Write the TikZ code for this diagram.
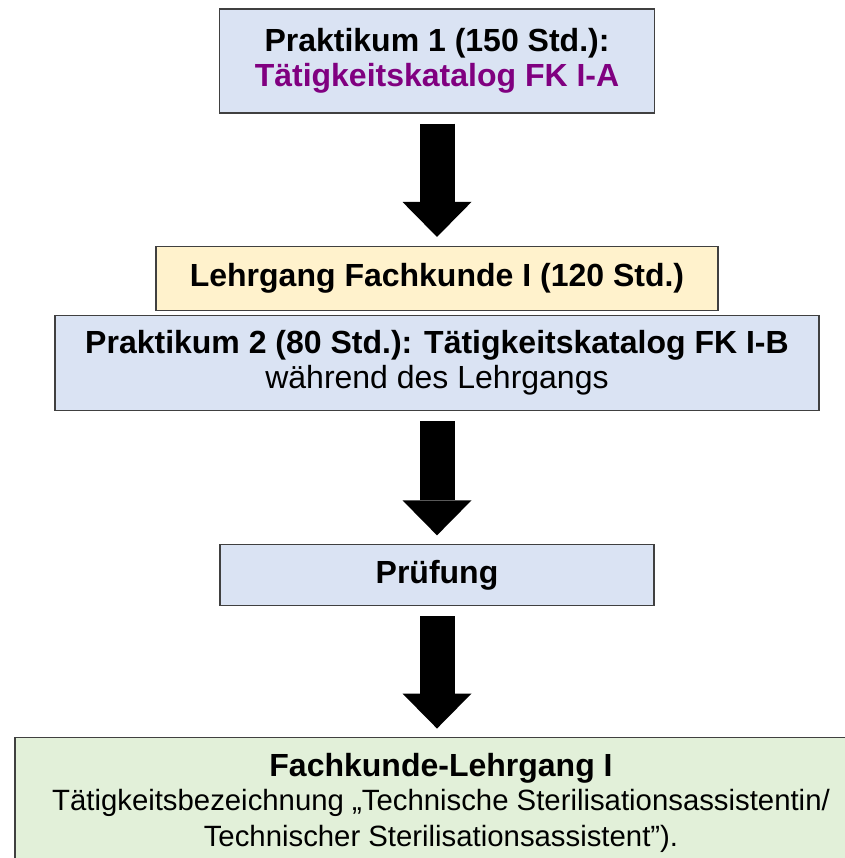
\documentclass[tikz,border=0pt]{standalone}
\definecolor{kastenblau}{RGB}{218, 227, 243}
\definecolor{kastengelb}{RGB}{255, 242, 204}
\definecolor{kastengruen}{RGB}{226, 240, 217}
\definecolor{kataloglila}{RGB}{128, 0, 128}
\definecolor{randgrau}{RGB}{64, 64, 64}
\usepackage{fontspec}
\setmainfont{Liberation Sans}
\usepackage{tikz}
\usetikzlibrary{positioning, arrows.meta, calc}
\usepackage{xcolor}

\begin{document}
\begin{tikzpicture}[
      x=0.75pt, y=-0.75pt,
      kasten/.style={
        draw=randgrau, line width=0.9pt, fill=kastenblau,
        align=center, inner sep=0pt,
        font=\fontsize{24}{26.5}\selectfont
      },
      blockpfeil/.style={
        line width=26.25pt,
        -{Triangle[length=26.25pt, width=51.75pt, line width=0pt]},
        shorten <=7.5pt, shorten >=6.5pt
      }
    ]
      \useasboundingbox (0,0) rectangle (844,858);

      \node[kasten, minimum width=326.25pt, minimum height=78pt] (s1) at (437,61)
        {\textbf{Praktikum 1 (150 Std.):}\\ \textcolor{kataloglila}{\textbf{Tätigkeitskatalog FK I-A}}};
      \node[kasten, fill=kastengelb, minimum width=421.5pt, minimum height=48pt,
        below=99pt of s1] (s2) {\textbf{Lehrgang Fachkunde I (120 Std.)}};
      \node[kasten, minimum width=573pt, minimum height=71.25pt,
        below=3pt of s2] (s3)
        {\textbf{Praktikum 2 (80 Std.): Tätigkeitskatalog FK I-B}\\ während des Lehrgangs};
      \node[kasten, minimum width=325.5pt, minimum height=45.75pt,
        below=99.75pt of s3] (s4) {\textbf{Prüfung}};
      \node[kasten, fill=kastengruen, minimum width=639pt, minimum height=97.5pt,
        below=98.25pt of s4, xshift=3pt] (s5)
        {\textbf{Fachkunde-Lehrgang I}\\[-1pt]
         \fontsize{22}{24}\selectfont Tätigkeitsbezeichnung „Technische Sterilisationsassistentin/\\
         \fontsize{22}{24}\selectfont Technischer Sterilisationsassistent”).};

      \draw[blockpfeil] (s1) -- (s2);
      \draw[blockpfeil] (s3) -- (s4);
      \draw[blockpfeil] (s4) -- (s4 |- s5.north);
    \end{tikzpicture}
\end{document}
